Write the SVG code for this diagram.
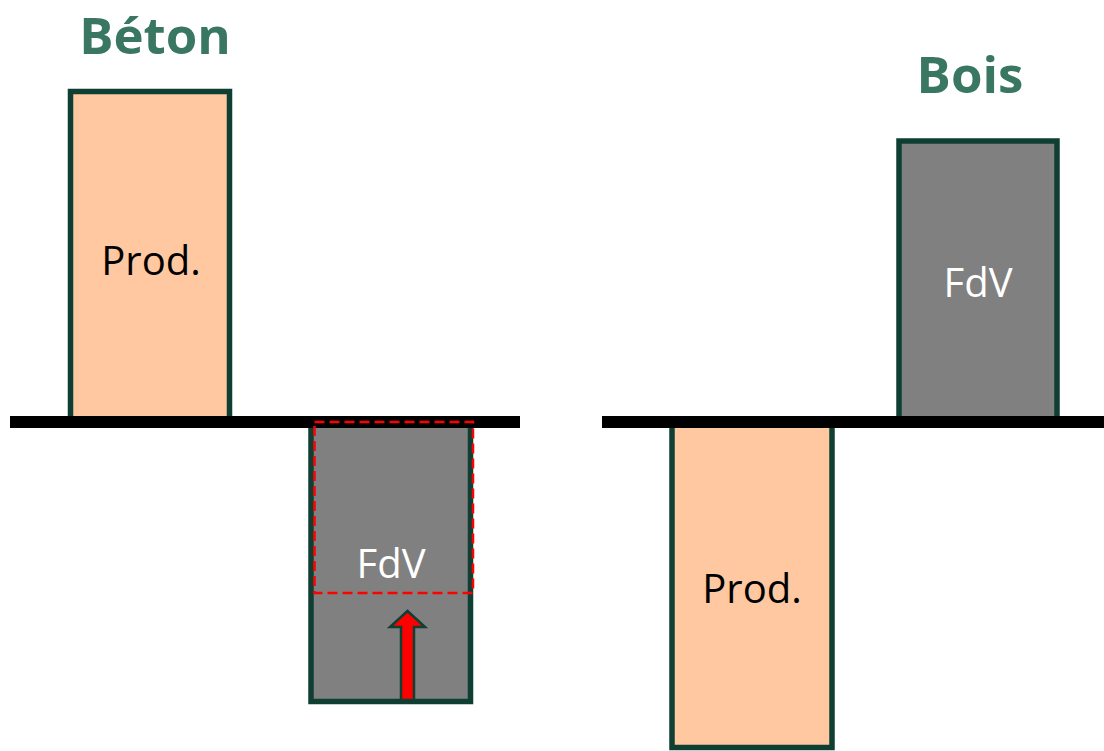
<svg xmlns="http://www.w3.org/2000/svg" width="1104" height="751" viewBox="0 0 1104 751">
  <style>
    .prod { fill: #FFC8A0; stroke: #0F3F33; stroke-width: 5.5; }
    .fdv { fill: #808080; stroke: #0F3F33; stroke-width: 5.5; }
    .title { font-family: "Open Sans", "Liberation Sans", sans-serif; font-weight: bold; font-size: 51px; fill: #3A7763; text-anchor: middle; }
    .lbl { font-family: "Open Sans", "Liberation Sans", sans-serif; font-size: 40px; text-anchor: middle; }
    .axis { fill: #000000; }
  </style>

  <!-- Titles -->
  <text class="title" x="155" y="54">Béton</text>
  <text class="title" x="970" y="93">Bois</text>

  <!-- Concrete: production above axis -->
  <g id="beton-prod">
    <rect class="prod" x="70.5" y="91.5" width="159" height="330"/>
    <text class="lbl" x="151" y="275" fill="#000000">Prod.</text>
  </g>

  <!-- Concrete: end of life below axis -->
  <g id="beton-fdv">
    <rect class="fdv" x="311" y="420" width="159.5" height="281.5"/>
  </g>

  <!-- Wood: end of life above axis -->
  <g id="bois-fdv">
    <rect class="fdv" x="899" y="141" width="158" height="280"/>
    <text class="lbl" x="978" y="297" fill="#FFFFFF">FdV</text>
  </g>

  <!-- Wood: production below axis -->
  <g id="bois-prod">
    <rect class="prod" x="672" y="420" width="160" height="327.5"/>
    <text class="lbl" x="752" y="603" fill="#000000">Prod.</text>
  </g>

  <!-- Axes -->
  <g id="axes">
    <rect class="axis" x="10" y="416" width="510" height="12"/>
    <rect class="axis" x="602" y="416" width="502" height="12"/>
  </g>

  <g id="connectors">
    <!-- reduced end-of-life outline -->
    <rect x="314.5" y="422" width="158.5" height="171" fill="none" stroke="#FF0000" stroke-width="2.5" stroke-dasharray="10 5"/>
    <!-- upward shift arrow -->
    <polygon points="401,700 401,627 390,627 407.5,611 425,627 414,627 414,700" fill="#FF0000" stroke="#0F3F33" stroke-width="2.5" stroke-linejoin="miter"/>
  </g>

  <text class="lbl" x="391" y="578" fill="#FFFFFF">FdV</text>
</svg>
